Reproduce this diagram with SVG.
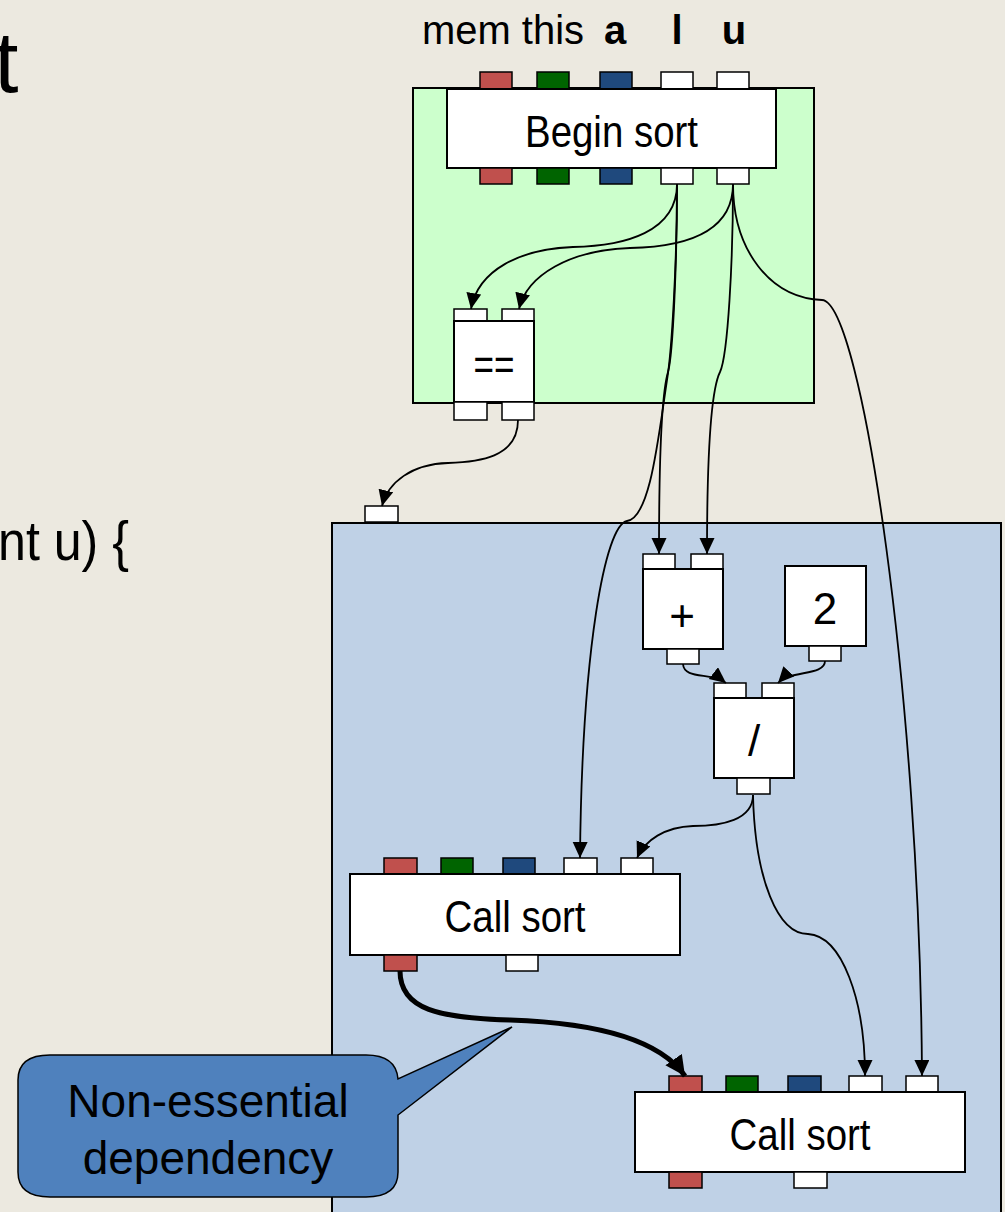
<svg xmlns="http://www.w3.org/2000/svg" width="1005" height="1212" viewBox="0 0 1005 1212">
<style>
.bg{fill:#ECE9E0}
.cont{stroke:#000;stroke-width:2}
.box{fill:#fff;stroke:#000;stroke-width:2}
.p{stroke:#000;stroke-width:1.5}
.w{fill:#fff}.r{fill:#C0504D}.g{fill:#006400}.b{fill:#1F497D}
.lbl{font-family:"Liberation Sans Narrow","Liberation Sans",Arial,sans-serif;font-size:44px;fill:#000;text-anchor:middle}
.hdr{font-family:"Liberation Sans",Arial,sans-serif;font-size:40px;fill:#000}
.code{font-family:"Liberation Sans",Arial,sans-serif;fill:#000}
.c{fill:none;stroke:#000;stroke-width:1.8;marker-end:url(#ah)}
.ct{fill:none;stroke:#000;stroke-width:5;marker-end:url(#ahb)}
</style>
<defs>
<marker id="ah" markerUnits="userSpaceOnUse" markerWidth="18" markerHeight="18" refX="16" refY="7.5" orient="auto"><path d="M0,0 L16,7.5 L0,15 z" fill="#000"/></marker>
<marker id="ahb" markerUnits="userSpaceOnUse" markerWidth="24" markerHeight="22" refX="20" refY="10" orient="auto"><path d="M0,0 L20,10 L0,20 z" fill="#000"/></marker>
</defs>
<rect class="bg" x="0" y="0" width="1005" height="1212"/>
<text class="code" x="-6" y="92" font-size="88">t</text>
<text class="code" x="-2" y="560" font-size="56" textLength="131" lengthAdjust="spacingAndGlyphs">nt u) {</text>
<text class="hdr" x="422" y="44" textLength="162" lengthAdjust="spacingAndGlyphs">mem this</text>
<text class="hdr" x="615" y="44" font-weight="bold" text-anchor="middle">a</text>
<text class="hdr" x="677" y="44" font-weight="bold" text-anchor="middle">l</text>
<text class="hdr" x="734" y="44" font-weight="bold" text-anchor="middle">u</text>
<g id="containers">
<rect id="green-region" class="cont" x="413" y="88" width="401" height="315" fill="#CCFFCC"/>
<rect id="blue-region" class="cont" x="332" y="523" width="669" height="700" fill="#BFD1E6"/>
</g>
<g id="nodes">
<g id="begin-sort">
<rect class="p r" x="480" y="72" width="32" height="17"/><rect class="p g" x="537" y="72" width="32" height="17"/><rect class="p b" x="600" y="72" width="32" height="17"/><rect class="p w" x="661" y="72" width="32" height="17"/><rect class="p w" x="717" y="72" width="32" height="17"/>
<rect class="box" x="447" y="89" width="329" height="79"/>
<rect class="p r" x="480" y="168" width="32" height="16"/><rect class="p g" x="537" y="168" width="32" height="16"/><rect class="p b" x="600" y="168" width="32" height="16"/><rect class="p w" x="661" y="168" width="32" height="16"/><rect class="p w" x="717" y="168" width="32" height="16"/>
<text class="lbl" x="611.5" y="147" textLength="173" lengthAdjust="spacingAndGlyphs">Begin sort</text>
</g>
<g id="eq">
<rect class="p w" x="454" y="309" width="33" height="12"/><rect class="p w" x="502" y="309" width="32" height="12"/>
<rect class="box" x="454" y="321" width="80" height="81"/>
<rect class="p w" x="454" y="402" width="33" height="18"/><rect class="p w" x="502" y="402" width="32" height="18"/>
<text class="lbl" x="494" y="380" textLength="41" lengthAdjust="spacingAndGlyphs">==</text>
</g>
<g id="blue-in-port"><rect class="p w" x="365" y="506" width="33" height="16"/></g>
<g id="plus">
<rect class="p w" x="643" y="554" width="32" height="15"/><rect class="p w" x="691" y="554" width="32" height="15"/>
<rect class="box" x="643" y="569" width="80" height="80"/>
<rect class="p w" x="667" y="649" width="32" height="15"/>
<text class="lbl" x="682" y="631">+</text>
</g>
<g id="const2">
<rect class="box" x="785" y="566" width="81" height="80"/>
<rect class="p w" x="809" y="646" width="32" height="15"/>
<text class="lbl" x="825" y="624">2</text>
</g>
<g id="div">
<rect class="p w" x="714" y="683" width="32" height="15"/><rect class="p w" x="762" y="683" width="32" height="15"/>
<rect class="box" x="714" y="698" width="80" height="80"/>
<rect class="p w" x="737" y="778" width="33" height="16"/>
<text class="lbl" x="754" y="756">/</text>
</g>
<g id="call-sort-1">
<rect class="p r" x="384" y="858" width="33" height="16"/><rect class="p g" x="441" y="858" width="32" height="16"/><rect class="p b" x="503" y="858" width="32" height="16"/><rect class="p w" x="564" y="858" width="33" height="16"/><rect class="p w" x="621" y="858" width="32" height="16"/>
<rect class="box" x="350" y="874" width="330" height="81"/>
<rect class="p r" x="384" y="955" width="33" height="16"/><rect class="p w" x="506" y="955" width="32" height="16"/>
<text class="lbl" x="515" y="932" textLength="141" lengthAdjust="spacingAndGlyphs">Call sort</text>
</g>
<g id="call-sort-2">
<rect class="p r" x="669" y="1076" width="33" height="16"/><rect class="p g" x="726" y="1076" width="32" height="16"/><rect class="p b" x="788" y="1076" width="33" height="16"/><rect class="p w" x="849" y="1076" width="33" height="16"/><rect class="p w" x="906" y="1076" width="32" height="16"/>
<rect class="box" x="635" y="1092" width="330" height="80"/>
<rect class="p r" x="669" y="1172" width="33" height="16"/><rect class="p w" x="794" y="1172" width="33" height="16"/>
<text class="lbl" x="800" y="1150" textLength="141" lengthAdjust="spacingAndGlyphs">Call sort</text>
</g>
</g>
<g id="connectors">
<path class="c" d="M677,184 C677,232 625,246 573,247 C520,249 478,270 471,309"/>
<path class="c" d="M733,184 C733,235 680,247 630,248 C570,250 527,275 519,309"/>
<path class="c" d="M677,184 C677,260 673,355 668,372 C662,392 659,450 659,554"/>
<path class="c" d="M733,184 C733,260 728,355 720,372 C711,390 707,450 707,554"/>
<path class="c" d="M677,184 C677,260 672,350 667,380 C658,440 650,518 627,521 C605,525 582,650 580,858"/>
<path class="c" d="M733,184 C733,250 770,298 822,300 C862,302 920,700 922,1076"/>
<path class="c" d="M518,420 C518,458 478,462 448,463 C412,464 388,482 382,506"/>
<path class="c" d="M683,664 C684,680 712,672 726,683"/>
<path class="c" d="M825,661 C825,676 790,670 778,683"/>
<path class="c" d="M753,795 C753,820 722,826 693,826 C665,827 645,840 637,858"/>
<path class="c" d="M753,795 C755,880 778,934 808,934 C842,936 865,1000 865,1076"/>
<path class="ct" d="M400,971 C400,1010 440,1018 510,1020 C600,1023 660,1040 685,1076"/>
</g>
<g id="callout">
<path d="M50,1055 H366 Q396,1055 398,1079 L512,1027 L398,1115 V1172 Q398,1197 366,1197 H50 Q18,1197 18,1172 V1080 Q18,1055 50,1055 Z" fill="#4F81BD" stroke="#000" stroke-width="1.5"/>
<text x="208" y="1117" font-family="'Liberation Sans',Arial,sans-serif" font-size="46" text-anchor="middle" fill="#000">Non-essential</text>
<text x="208" y="1174" font-family="'Liberation Sans',Arial,sans-serif" font-size="46" text-anchor="middle" fill="#000">dependency</text>
</g>
</svg>
